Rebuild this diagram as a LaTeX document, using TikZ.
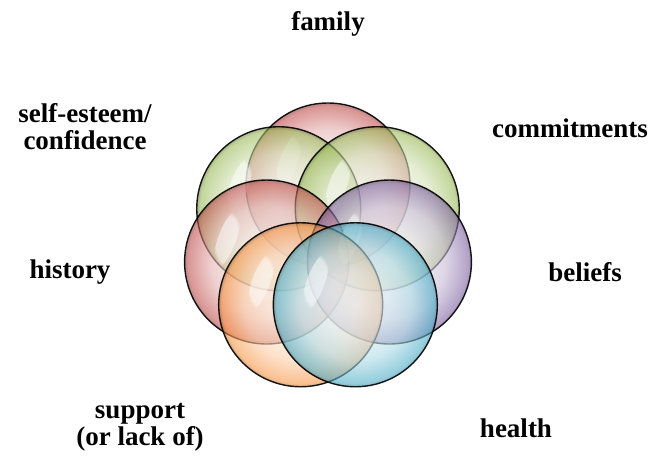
\documentclass[tikz,border=0pt]{standalone}
\usepackage{fontspec}
\setmainfont{Liberation Serif}
\usetikzlibrary{fadings}
\definecolor{cred}{HTML}{C0504D}
\definecolor{cgreen}{HTML}{9BBB59}
\definecolor{cpurple}{HTML}{8064A2}
\definecolor{cblue}{HTML}{4BACC6}
\definecolor{corange}{HTML}{F79646}
\colorlet{bubblecol}{cred}
\pgfdeclareradialshading[bubblecol]{bubble}{\pgfpoint{0bp}{0bp}}{%
  color(0bp)=(bubblecol!12); color(10bp)=(bubblecol!22); color(17bp)=(bubblecol!45);
  color(21.5bp)=(bubblecol!80); color(24bp)=(bubblecol); color(25bp)=(bubblecol!70!black);
  color(50bp)=(bubblecol!70!black)}
\begin{document}
\begin{tikzpicture}[x=1pt,y=-1pt,
  bubble/.style={circle, draw=black, line width=1.4pt, inner sep=0pt,
    minimum size=164pt, shading=bubble, fill opacity=0.6, draw opacity=0.9},
  gloss/.style={white, fill opacity=0.5, path fading=circle with fuzzy edge 20 percent},
  lab/.style={font=\bfseries\fontsize{27}{27}\selectfont, align=center, inner sep=0pt}]
\useasboundingbox (0,0) rectangle (657,457);
\foreach \a/\c/\n in {90/cred/top, 141.43/cgreen/ul, 38.57/cgreen/ur,
    192.86/cred/lt, -12.86/cpurple/rt, 244.29/corange/ll, -64.29/cblue/lr}{
  \colorlet{bubblecol}{\c}
  \node[bubble] (\n) at ({328+63*cos(\a)},{248-63*sin(\a)}) {};
  \fill[gloss, rotate around={-20:(\n.center)}] ([shift={(-45,-8)}]\n.center) ellipse (9 and 30);
}
\node[lab] (family) at (328,24) {family};
\node[lab] (self) at (85,127) {self-esteem/\\confidence};
\node[lab] (commit) at (570,128) {commitments};
\node[lab] (history) at (70,272) {history};
\node[lab] (beliefs) at (585,272) {beliefs};
\node[lab] (support) at (140,427) {support\\(or lack of)};
\node[lab] (health) at (516,428) {health};
\end{tikzpicture}
\end{document}
